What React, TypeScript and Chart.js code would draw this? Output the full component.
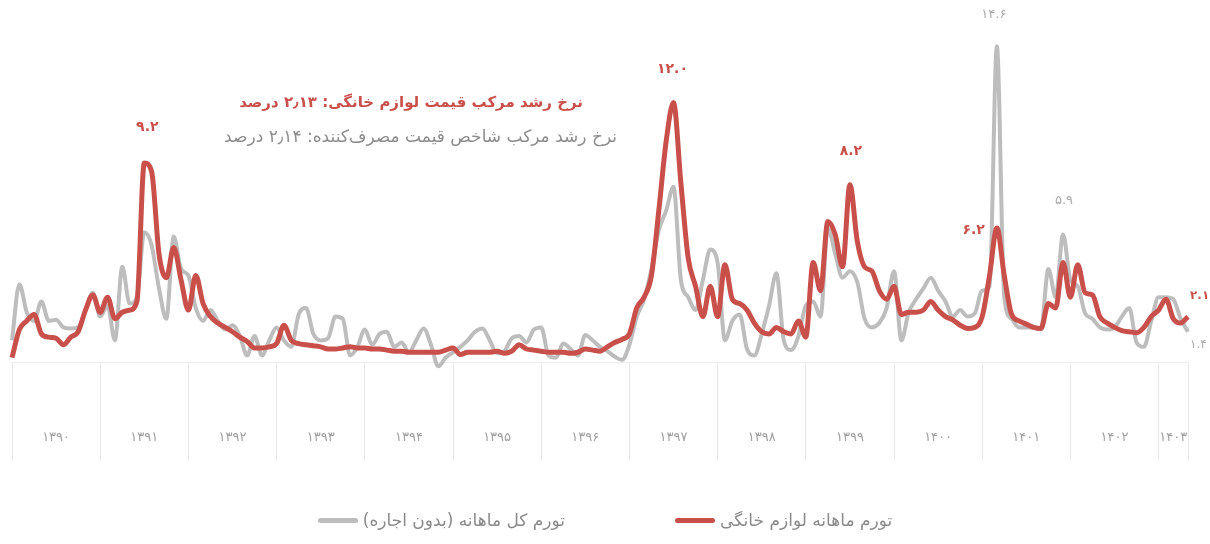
import React, { useEffect, useRef } from 'react';
import { Chart, registerables } from 'chart.js';

Chart.register(...registerables);

const years = ['۱۳۹۰', '۱۳۹۱', '۱۳۹۲', '۱۳۹۳', '۱۳۹۴', '۱۳۹۵', '۱۳۹۶', '۱۳۹۷', '۱۳۹۸', '۱۳۹۹', '۱۴۰۰', '۱۴۰۱', '۱۴۰۲', '۱۴۰۳'];
const monthsInLastYear = 5;

// monthly inflation of household appliances (%)
const applianceInflation = [
  0.2, 1.5, 1.9, 2.2, 1.3, 1.15, 1.1, 0.8, 1.15, 1.4, 2.4, 3.1,
  2.3, 3.0, 2.0, 2.3, 2.4, 2.8, 9.2, 8.8, 5.0, 3.9, 5.3, 3.8,
  2.4, 4.0, 2.7, 2.1, 1.8, 1.6, 1.4, 1.15, 0.95, 0.65, 0.65, 0.7,
  0.85, 1.7, 1.0, 0.85, 0.8, 0.75, 0.7, 0.6, 0.6, 0.65, 0.7, 0.65,
  0.65, 0.6, 0.6, 0.55, 0.5, 0.5, 0.45, 0.45, 0.45, 0.45, 0.45, 0.55,
  0.65, 0.35, 0.45, 0.45, 0.45, 0.45, 0.5, 0.4, 0.5, 0.8, 0.6, 0.55,
  0.5, 0.45, 0.45, 0.45, 0.4, 0.45, 0.6, 0.55, 0.5, 0.7, 0.9, 1.05,
  1.3, 2.5, 3.0, 4.0, 7.0, 10.2, 12.0, 8.3, 4.8, 3.5, 2.1, 3.5,
  2.1, 4.5, 2.9, 2.7, 2.4, 1.8, 1.4, 1.3, 1.6, 1.4, 1.3, 1.9,
  1.15, 4.6, 3.3, 6.5, 5.9, 4.4, 8.2, 5.6, 4.4, 4.2, 3.3, 2.9,
  3.5, 2.2, 2.3, 2.3, 2.4, 2.8, 2.4, 2.1, 1.95, 1.7, 1.55, 1.6,
  2.1, 4.0, 6.2, 4.0, 2.2, 1.9, 1.75, 1.6, 1.55, 2.7, 2.5, 4.6,
  3.0, 4.5, 3.2, 3.1, 2.1, 1.8, 1.6, 1.45, 1.4, 1.35, 1.6, 2.1,
  2.4, 2.9, 2.0, 1.8, 2.1,
];

// monthly overall inflation, excluding rent (%)
const cpiInflation = [
  1.0, 3.6, 2.3, 1.9, 2.8, 1.9, 1.95, 1.6, 1.55, 1.6, 2.4, 3.2,
  2.1, 2.6, 1.0, 4.4, 2.7, 3.0, 6.0, 5.4, 3.4, 2.0, 5.8, 4.3,
  4.0, 2.5, 1.9, 2.4, 1.9, 1.5, 1.7, 1.2, 0.3, 1.2, 0.3, 1.0,
  1.6, 1.0, 0.7, 2.2, 2.5, 1.3, 1.0, 1.1, 2.1, 2.0, 0.3, 0.7,
  1.5, 0.8, 1.3, 1.4, 0.7, 0.9, 0.45, 1.0, 1.55, 0.8, -0.2, 0.2,
  0.45, 0.7, 1.0, 1.4, 1.55, 1.0, 0.4, 0.5, 1.1, 1.2, 0.9, 1.5,
  1.6, 0.3, 0.2, 0.85, 0.6, 0.3, 1.25, 1.0, 0.7, 0.5, 0.25, 0.1,
  0.8, 2.1, 2.9, 4.3, 6.1, 7.0, 8.1, 3.8, 3.0, 2.4, 3.8, 5.2,
  4.6, 1.0, 1.9, 2.2, 0.6, 0.3, 1.3, 2.6, 4.1, 1.0, 0.55, 1.2,
  2.6, 2.8, 2.1, 6.2, 5.0, 3.9, 4.2, 3.7, 2.0, 1.6, 1.8, 2.5,
  4.2, 1.0, 2.3, 2.9, 3.4, 3.9, 3.3, 2.8, 2.1, 2.4, 2.1, 2.25,
  3.3, 3.5, 14.6, 3.0, 2.0, 1.6, 1.6, 1.6, 1.55, 4.3, 3.0, 5.9,
  3.8, 3.5, 2.25, 2.0, 1.6, 1.5, 1.6, 2.1, 2.5, 0.9, 0.7, 1.9,
  3.0, 3.0, 2.9, 2.0, 1.4,
];

const seriesNames = ['تورم کل ماهانه (بدون اجاره)', 'تورم ماهانه لوازم خانگی'];
const cagrTexts = [
  'نرخ رشد مرکب قیمت لوازم خانگی: ۲٫۱۳ درصد',
  'نرخ رشد مرکب شاخص قیمت مصرف‌کننده: ۲٫۱۴ درصد',
];

// value callouts: series 0 = CPI (gray), 1 = appliances (red)
const callouts = [
  { series: 1, index: 18, text: '۹.۲' },
  { series: 1, index: 90, text: '۱۲.۰' },
  { series: 1, index: 114, text: '۸.۲' },
  { series: 0, index: 134, text: '۱۴.۶' },
  { series: 1, index: 134, text: '۶.۲' },
  { series: 0, index: 143, text: '۵.۹' },
  { series: 1, index: 160, text: '۲.۱' },
  { series: 0, index: 160, text: '۱.۴' },
];

const RED = '#c9504a';
const GRAY = '#bdbdbd';
const FONT = '"DejaVu Sans", "Noto Sans", sans-serif';

// build month labels from years
const monthLabels: string[] = years.flatMap((y, yi) =>
  Array.from({ length: yi === years.length - 1 ? monthsInLastYear : 12 }, (_, m) => `${y}/${m + 1}`)
);
const lastIndex = monthLabels.length - 1;

function yearLabelAt(index: number): string {
  const yi = Math.floor(index / 12);
  const len = yi === years.length - 1 ? monthsInLastYear : 12;
  return index === yi * 12 + Math.floor(len / 2) ? years[yi] : '';
}

// callout placement (style only)
const calloutStyle: Record<string, { dx: number; dy: number; align: CanvasTextAlign; bold: boolean; size: number }> = {
  '1-18': { dx: 3, dy: -36, align: 'center', bold: true, size: 14 },
  '1-90': { dx: -1, dy: -33, align: 'center', bold: true, size: 14 },
  '1-114': { dx: 1, dy: -33, align: 'center', bold: true, size: 14 },
  '0-134': { dx: -3, dy: -32, align: 'center', bold: false, size: 13 },
  '1-134': { dx: -12, dy: 2, align: 'right', bold: true, size: 14 },
  '0-143': { dx: 1, dy: -34, align: 'center', bold: false, size: 13 },
  '1-160': { dx: 2, dy: -21, align: 'left', bold: true, size: 12 },
  '0-160': { dx: 2, dy: 13, align: 'left', bold: false, size: 12 },
};

const textPlugin = {
  id: 'textPlugin',
  afterDatasetsDraw(chart: any) {
    const ctx = chart.ctx as CanvasRenderingContext2D;
    ctx.save();
    ctx.textBaseline = 'middle';
    callouts.forEach((c) => {
      const meta = chart.getDatasetMeta(c.series);
      const pt = meta.data[c.index];
      if (!pt) return;
      const st = calloutStyle[`${c.series}-${c.index}`];
      ctx.font = `${st.bold ? 'bold ' : ''}${st.size}px ${FONT}`;
      ctx.fillStyle = c.series === 1 ? RED : '#aaaaaa';
      ctx.textAlign = st.align;
      ctx.fillText(c.text, pt.x + st.dx, pt.y + st.dy);
    });
    ctx.direction = 'rtl';
    ctx.textAlign = 'right';
    ctx.font = `bold 15px ${FONT}`;
    ctx.fillStyle = RED;
    ctx.fillText(cagrTexts[0], 583, 103);
    ctx.font = `17px ${FONT}`;
    ctx.fillStyle = '#8c8c8c';
    ctx.fillText(cagrTexts[1], 617, 138);
    ctx.restore();
  },
};

export default function App() {
  const canvasRef = useRef<HTMLCanvasElement | null>(null);

  useEffect(() => {
    const canvas = canvasRef.current;
    if (!canvas) return;
    const chart = new Chart(canvas, {
      type: 'line',
      data: {
        labels: monthLabels,
        datasets: [
          {
            label: seriesNames[0],
            data: cpiInflation,
            borderColor: GRAY,
            backgroundColor: GRAY,
            borderWidth: 4,
            pointRadius: 0,
            cubicInterpolationMode: 'monotone',
            clip: false,
            order: 2,
          },
          {
            label: seriesNames[1],
            data: applianceInflation,
            borderColor: RED,
            backgroundColor: RED,
            borderWidth: 5,
            pointRadius: 0,
            cubicInterpolationMode: 'monotone',
            clip: false,
            order: 1,
          },
        ],
      },
      options: {
        responsive: false,
        animation: false,
        layout: { padding: { top: 16, left: 12, right: 22, bottom: 0 } },
        plugins: {
          legend: { display: false },
          tooltip: { enabled: false },
        },
        scales: {
          y: {
            display: false,
            min: 0,
            max: 16,
          },
          x: {
            type: 'category',
            offset: false,
            border: { display: true, color: '#ececec', width: 1 },
            grid: {
              drawOnChartArea: false,
              drawTicks: true,
              tickLength: 98,
              color: (c: any) => (c.index % 12 === 0 || c.index === lastIndex ? '#e8e8e8' : 'rgba(0,0,0,0)'),
            },
            ticks: {
              autoSkip: false,
              maxRotation: 0,
              minRotation: 0,
              padding: -30,
              color: '#a0a0a0',
              font: { size: 13, family: FONT },
              callback: (_v: any, index: number) => yearLabelAt(index),
            },
            afterFit: (scale: any) => {
              scale.height = 182;
            },
          },
        },
      },
      plugins: [textPlugin],
    });
    return () => chart.destroy();
  }, []);

  const legendItems = [
    { name: seriesNames[0], color: GRAY },
    { name: seriesNames[1], color: RED },
  ];

  return (
    <div style={{ position: 'fixed', left: 0, top: 0, width: 1210, height: 544, background: '#fff' }}>
      <canvas ref={canvasRef} width={1210} height={544} style={{ display: 'block' }} />
      <div
        style={{
          position: 'absolute',
          left: 0,
          top: 510,
          width: 1210,
          display: 'flex',
          justifyContent: 'center',
          alignItems: 'center',
          gap: 110,
          fontFamily: FONT,
          fontSize: 17,
          color: '#8a8a8a',
        }}
      >
        {legendItems.map((it) => (
          <div key={it.name} style={{ display: 'flex', alignItems: 'center', gap: 5 }}>
            <span style={{ display: 'inline-block', width: 40, height: 5, borderRadius: 3, background: it.color }} />
            <span dir="rtl">{it.name}</span>
          </div>
        ))}
      </div>
    </div>
  );
}
